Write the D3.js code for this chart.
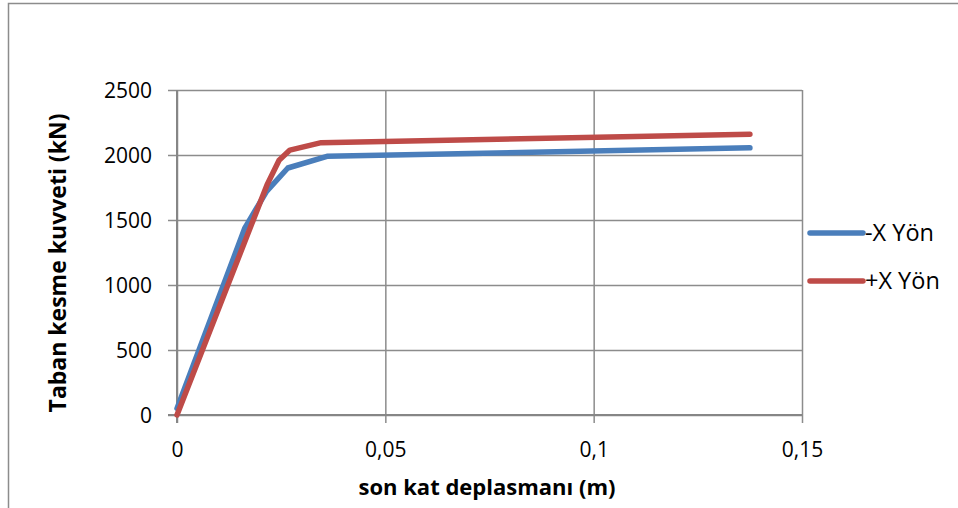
<!DOCTYPE html>
<html>
<head>
<meta charset="utf-8">
<script src="https://cdn.jsdelivr.net/npm/d3@7"></script>
<style>
  html, body { margin: 0; padding: 0; background: #fff; }
  svg { display: block; }
  text { font-family: "Open Sans", "Liberation Sans", sans-serif; fill: #000; }
</style>
</head>
<body>
<svg id="chart" width="958" height="508"></svg>
<script>
// Pushover curve: base shear vs. top-storey displacement
const seriesNames = ["-X Yön", "+X Yön"];
const minusXDisp  = [0, 0.0163, 0.0215, 0.0266, 0.036, 0.1375];
const minusXShear = [50, 1440, 1720, 1900, 1990, 2055];
const plusXDisp   = [0, 0.0216, 0.0245, 0.0271, 0.0346, 0.1375];
const plusXShear  = [0, 1770, 1960, 2038, 2095, 2160];
const xTicks = [0, 0.05, 0.1, 0.15];
const yTicks = [0, 500, 1000, 1500, 2000, 2500];
const colors = ["#4a7ebb", "#be4b48"];

const svg = d3.select("#chart");
const W = 958, H = 508;
const plot = { left: 177, right: 802, top: 90, bottom: 415 };

// outer chart-area frame
svg.append("rect")
  .attr("x", 8.5).attr("y", 3.5)
  .attr("width", W + 10).attr("height", H + 10)
  .attr("fill", "none").attr("stroke", "#8c8c8c").attr("stroke-width", 1.5);

const x = d3.scaleLinear().domain([0, 0.15]).range([plot.left, plot.right]);
const y = d3.scaleLinear().domain([0, 2500]).range([plot.bottom, plot.top]);

const fmtX = v => v === 0 ? "0" : String(v).replace(".", ",");

// horizontal gridlines + y ticks
const yAxis = d3.axisLeft(y).tickValues(yTicks).tickFormat(d3.format("d"))
  .tickSize(plot.right - plot.left + 9).tickPadding(16);
const gy = svg.append("g").attr("transform", `translate(${plot.right},0)`).call(yAxis);
gy.select(".domain").remove();
gy.selectAll(".tick line").attr("stroke", "#8c8c8c").attr("stroke-width", 1.5);
gy.selectAll(".tick text").attr("font-size", 21).attr("dy", "0.35em");

// vertical gridlines + x ticks
const xAxis = d3.axisBottom(x).tickValues(xTicks).tickFormat(fmtX)
  .tickSize(-(plot.bottom - plot.top)).tickPadding(0);
const gx = svg.append("g").attr("transform", `translate(0,${plot.bottom})`).call(xAxis);
gx.select(".domain").remove();
gx.selectAll(".tick line").attr("stroke", "#8c8c8c").attr("stroke-width", 1.5)
  .attr("y2", 8).attr("y1", -(plot.bottom - plot.top));
gx.selectAll(".tick text").attr("font-size", 21).attr("y", 42).attr("dy", 0);

// axis lines
svg.append("line").attr("x1", plot.left).attr("x2", plot.left)
  .attr("y1", plot.top).attr("y2", plot.bottom + 8)
  .attr("stroke", "#868686").attr("stroke-width", 2);
svg.append("line").attr("x1", plot.left - 9).attr("x2", plot.right)
  .attr("y1", plot.bottom).attr("y2", plot.bottom)
  .attr("stroke", "#868686").attr("stroke-width", 2);

// series lines
const line = d3.line().x(d => x(d[0])).y(d => y(d[1]));
const series = [
  d3.zip(minusXDisp, minusXShear),
  d3.zip(plusXDisp, plusXShear)
];
series.forEach((pts, i) => {
  svg.append("path").datum(pts)
    .attr("d", line)
    .attr("fill", "none")
    .attr("stroke", colors[i])
    .attr("stroke-width", 5.5)
    .attr("stroke-linejoin", "round")
    .attr("stroke-linecap", "round");
});

// axis titles
svg.append("text")
  .attr("x", 487).attr("y", 495)
  .attr("text-anchor", "middle").attr("font-size", 22).attr("font-weight", "bold")
  .text("son kat deplasmanı (m)");
svg.append("text")
  .attr("transform", `translate(66,263) rotate(-90)`)
  .attr("text-anchor", "middle").attr("font-size", 23).attr("font-weight", "bold")
  .text("Taban kesme kuvveti (kN)");

// legend
const legend = svg.append("g");
seriesNames.forEach((name, i) => {
  const ly = 233 + i * 48;
  legend.append("line")
    .attr("x1", 810).attr("x2", 863).attr("y1", ly).attr("y2", ly)
    .attr("stroke", colors[i]).attr("stroke-width", 5.5).attr("stroke-linecap", "round");
  legend.append("text")
    .attr("x", 865).attr("y", ly).attr("dy", "0.35em")
    .attr("font-size", 23.5).text(name);
});
</script>
</body>
</html>
